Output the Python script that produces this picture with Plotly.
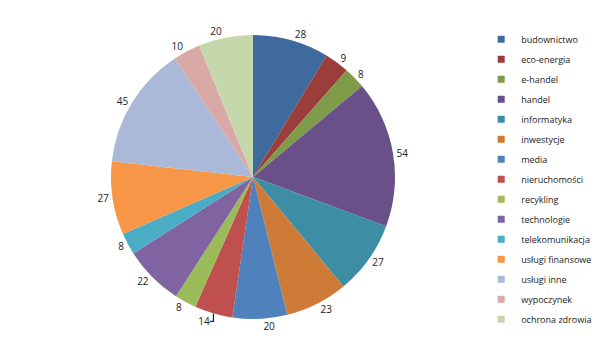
import plotly.graph_objects as go

categories = ["budownictwo", "eco-energia", "e-handel", "handel", "informatyka",
              "inwestycje", "media", "nieruchomości", "recykling", "technologie",
              "telekomunikacja", "usługi finansowe", "usługi inne", "wypoczynek",
              "ochrona zdrowia"]
values = [28, 9, 8, 54, 27, 23, 20, 14, 8, 22, 8, 27, 45, 10, 20]
colors = ["#3F6A9E", "#9B3E3B", "#7E9B49", "#6A5088", "#3D8EA4", "#CD7B37",
          "#4F81BD", "#C0504D", "#9BBB59", "#8064A2", "#4BACC6", "#F79646",
          "#AAB9D7", "#D9A9A8", "#C7D7AC"]

W, H = 600, 354
cx, cy, r = 253, 177, 142

fig = go.Figure()
fig.add_trace(go.Pie(
    labels=categories, values=values, sort=False, direction="clockwise",
    rotation=0, marker=dict(colors=colors, line=dict(width=0)),
    textinfo="value", textposition="outside",
    textfont=dict(family="Open Sans", size=10, color="#222222"),
    domain=dict(x=[(cx - r) / W, (cx + r) / W], y=[(H - cy - r) / H, (H - cy + r) / H]),
    hoverinfo="label+value", showlegend=False,
))
for c, col in zip(categories, colors):
    fig.add_trace(go.Scatter(x=[None], y=[None], mode="markers", name=c, legendgroup=c,
                             marker=dict(symbol="square", size=7, color=col)))
fig.update_xaxes(visible=False)
fig.update_yaxes(visible=False)
fig.update_layout(
    width=W, height=H, margin=dict(l=0, r=0, t=0, b=0, autoexpand=False),
    paper_bgcolor="white", plot_bgcolor="white",
    legend=dict(x=0.802, y=0.93, xanchor="left", yanchor="top",
                font=dict(family="Open Sans", size=9, color="#222222"),
                itemwidth=30, tracegroupgap=1),
)
fig.write_html("out.html")
